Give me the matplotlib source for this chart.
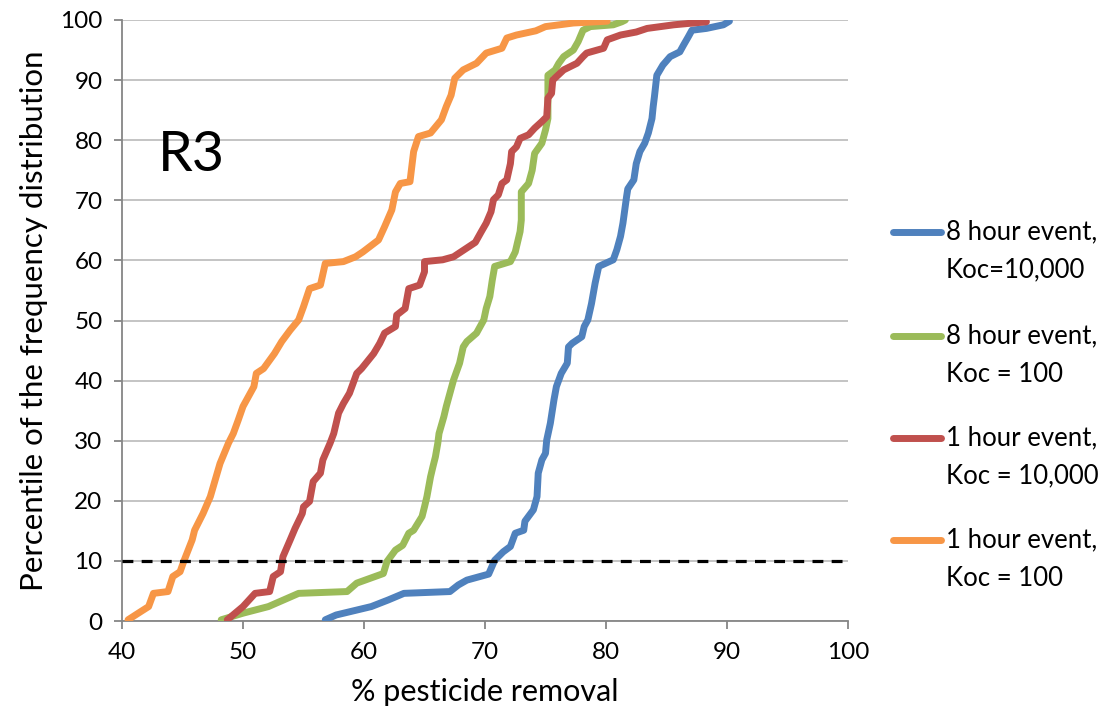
import matplotlib
matplotlib.use("Agg")
import matplotlib.pyplot as plt
from matplotlib.lines import Line2D

plt.rcParams['font.family'] = ['Lato', 'DejaVu Sans']

# 8 hour event, Koc=10,000
blue_x = [56.8, 57.7, 60.6, 62.0, 63.3, 67.1, 67.8, 68.5, 70.3, 70.8, 71.5, 72.1, 72.5, 73.2, 73.3, 74.0,
          74.3, 74.4, 74.7, 75.0, 75.1, 75.4, 75.7, 75.9, 76.3, 76.8, 76.9, 77.2, 78.0, 78.2, 78.5, 78.8,
          79.1, 79.4, 80.6, 80.9, 81.2, 81.4, 81.7, 81.8, 82.3, 82.5, 82.8, 83.2, 83.5, 83.8, 83.9, 84.0,
          84.2, 84.7, 85.3, 86.1, 86.4, 86.8, 87.1, 88.3, 89.7, 90.2]
blue_y = [0.2, 1.0, 2.4, 3.5, 4.6, 4.9, 6.0, 6.8, 7.8, 10.1, 11.5, 12.4, 14.6, 15.1, 16.6, 18.5,
          20.7, 24.6, 26.8, 27.9, 30.1, 32.9, 36.8, 39.0, 41.2, 42.9, 45.6, 46.2, 47.3, 49.0, 50.1, 52.8,
          56.2, 59.0, 60.1, 61.8, 64.0, 66.2, 70.6, 71.9, 73.4, 76.1, 78.1, 79.5, 81.2, 83.6, 85.6, 87.2,
          90.8, 92.5, 93.9, 94.7, 95.8, 97.2, 98.3, 98.6, 99.2, 99.8]

# 8 hour event, Koc = 100
green_x = [48.2, 50.0, 52.1, 54.6, 58.6, 59.4, 61.6, 61.9, 62.6, 63.2, 63.7, 64.1, 64.8, 65.0, 65.2, 65.5,
           65.7, 65.9, 66.1, 66.2, 66.6, 66.8, 67.1, 67.4, 67.9, 68.2, 68.5, 69.3, 69.9, 70.1, 70.4, 70.6,
           70.8, 72.1, 72.5, 72.9, 73.0, 73.0, 73.6, 73.9, 74.1, 74.7, 75.0, 75.2, 75.2, 75.8, 76.1, 76.5,
           77.3, 77.7, 78.1, 78.7, 80.6, 81.3, 81.6]
green_y = [0.2, 1.3, 2.4, 4.6, 4.9, 6.3, 7.9, 9.9, 11.8, 12.6, 14.6, 15.1, 17.4, 19.0, 20.7, 24.0,
           25.7, 27.3, 29.6, 31.2, 34.0, 35.7, 37.9, 40.1, 42.9, 45.6, 46.5, 47.9, 50.1, 52.0, 54.0, 56.7,
           59.0, 59.8, 61.4, 64.8, 66.7, 71.4, 72.8, 75.0, 77.8, 79.5, 81.7, 83.6, 90.8, 91.7, 92.8, 93.9,
           95.0, 96.4, 98.3, 98.9, 99.2, 99.7, 100.0]

# 1 hour event, Koc = 10,000
red_x = [48.7, 50.0, 51.0, 52.2, 52.5, 53.1, 53.3, 53.9, 54.3, 54.9, 55.0, 55.5, 55.8, 56.4, 56.6, 57.2,
         57.5, 57.9, 58.3, 58.8, 59.4, 59.8, 60.8, 61.3, 61.7, 62.6, 62.7, 63.4, 63.7, 64.6, 65.0, 65.0,
         66.5, 67.4, 69.2, 69.7, 70.1, 70.5, 70.7, 71.1, 71.4, 71.8, 72.1, 72.2, 72.6, 72.9, 73.6, 74.1,
         74.7, 75.1, 75.2, 75.5, 75.6, 76.5, 77.6, 78.1, 78.4, 79.8, 80.1, 81.2, 82.5, 83.4, 85.6, 88.3]
red_y = [0.2, 2.4, 4.6, 4.9, 7.4, 8.2, 10.7, 13.5, 15.4, 17.9, 19.0, 19.9, 23.2, 24.6, 26.8, 29.6,
         31.2, 34.6, 36.2, 37.9, 41.2, 42.0, 44.5, 46.2, 47.9, 49.0, 50.9, 52.0, 55.3, 55.9, 58.1, 59.8,
         60.1, 60.6, 63.0, 64.8, 66.2, 68.1, 70.1, 70.9, 72.8, 73.4, 76.1, 78.1, 78.9, 80.3, 80.9, 82.0,
         83.1, 83.9, 87.0, 87.8, 90.0, 91.7, 92.8, 93.9, 94.5, 95.3, 96.7, 97.5, 98.0, 98.6, 99.2, 99.7]

# 1 hour event, Koc = 100
orange_x = [40.5, 41.5, 42.2, 42.6, 43.8, 44.2, 44.8, 45.1, 45.8, 46.0, 46.7, 47.3, 48.1, 48.8, 49.2, 49.6,
            50.0, 50.9, 51.1, 51.7, 52.6, 53.2, 53.9, 54.6, 55.0, 55.5, 56.4, 56.8, 58.3, 59.3, 59.9, 61.2,
            61.7, 62.3, 62.6, 63.0, 63.8, 64.1, 64.5, 65.5, 66.4, 66.8, 67.2, 67.5, 68.2, 69.3, 70.1, 71.4,
            71.8, 72.6, 74.2, 75.0, 77.3, 80.1]
orange_y = [0.2, 1.5, 2.4, 4.6, 4.9, 7.4, 8.2, 9.9, 13.5, 15.1, 17.9, 20.7, 26.2, 29.6, 31.2, 33.4,
            35.7, 39.0, 41.2, 42.0, 44.5, 46.5, 48.4, 50.1, 52.3, 55.3, 55.9, 59.5, 59.8, 60.6, 61.4, 63.4,
            65.6, 68.4, 71.4, 72.8, 73.1, 78.1, 80.6, 81.2, 83.4, 85.6, 87.5, 90.3, 91.7, 92.8, 94.5, 95.3,
            97.0, 97.5, 98.2, 98.9, 99.5, 99.8]

labels_line1 = ["8 hour event,", "8 hour event,", "1 hour event,", "1 hour event,"]
labels_line2 = ["Koc=10,000", "Koc = 100", "Koc = 10,000", "Koc = 100"]
colors = ["#4F81BD", "#9BBB59", "#C0504D", "#F79646"]

threshold_x = [40, 100]
threshold_y = [10, 10]

W, H = 1105, 725
fig = plt.figure(figsize=(W / 100, H / 100), dpi=100)
ax = fig.add_axes([122 / W, 1 - 621 / H, (848 - 122) / W, (621 - 20) / H])

series = [(blue_x, blue_y), (green_x, green_y), (red_x, red_y), (orange_x, orange_y)]
for (xs, ys), c in zip(series, colors):
    ax.plot(xs, ys, color=c, lw=5, solid_capstyle='round', solid_joinstyle='round', zorder=3)

ax.plot(threshold_x, threshold_y, color='black', lw=2.3, dashes=(3.4, 2.6), zorder=4)

ax.set_xlim(40, 100)
ax.set_ylim(0, 100)
ax.set_xticks(range(40, 101, 10))
ax.set_yticks(range(0, 101, 10))
ax.grid(axis='y', color='#BFBFBF', lw=1.3)
ax.set_axisbelow(True)
for s in ['top', 'right']:
    ax.spines[s].set_visible(False)
for s in ['left', 'bottom']:
    ax.spines[s].set_color('#868686')
    ax.spines[s].set_linewidth(1.3)
ax.tick_params(axis='both', colors='#868686', length=6, width=1.3, labelsize=17.5, labelcolor='black')
ax.tick_params(axis='x', pad=9)
ax.tick_params(axis='y', pad=8)

ax.set_xlabel("% pesticide removal", fontsize=22, labelpad=11)
ax.set_ylabel("Percentile of the frequency distribution", fontsize=22.5, labelpad=9)

ax.text(43.0, 77.5, "R3", fontsize=40, ha='left', va='center')

# legend drawn manually, Excel style: handle aligned with first text line
entry_y = [232, 336, 438, 540]
line_gap = 38
for c, l1, l2, yp in zip(colors, labels_line1, labels_line2, entry_y):
    fy = 1 - yp / H
    fig.add_artist(Line2D([893 / W, 941 / W], [fy, fy], color=c, lw=5, solid_capstyle='round'))
    fig.text(946 / W, fy, l1, fontsize=18.5, ha='left', va='center')
    fig.text(946 / W, 1 - (yp + line_gap) / H, l2, fontsize=18.5, ha='left', va='center')

fig.savefig("out.png", dpi=100)
